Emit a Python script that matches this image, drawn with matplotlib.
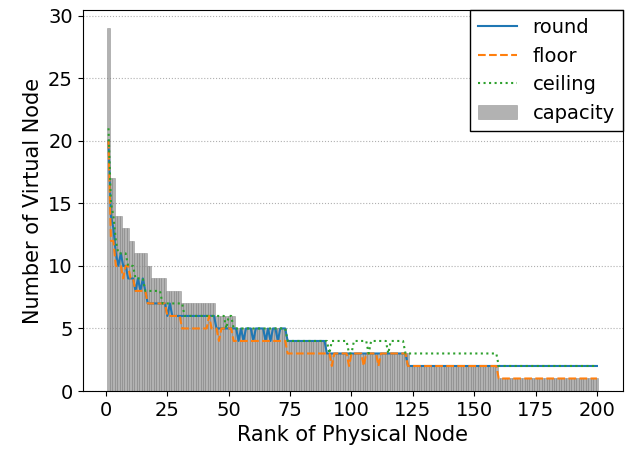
import matplotlib
matplotlib.use("Agg")
import matplotlib.pyplot as plt

plt.rcParams["font.size"] = 14

ranks = list(range(1, 201))

capacity = [
    29, 17, 17, 14, 14, 14, 13, 13, 13, 12, 12, 11, 11, 11, 11, 11, 10, 10, 9, 9,
    9, 9, 9, 9, 8, 8, 8, 8, 8, 8, 7, 7, 7, 7, 7, 7, 7, 7, 7, 7,
    7, 7, 7, 7, 6, 6, 6, 6, 6, 6, 6, 6, 5, 5, 5, 5, 5, 5, 5, 5,
    5, 5, 5, 5, 5, 5, 5, 5, 5, 5, 5, 5, 5, 4, 4, 4, 4, 4, 4, 4,
    4, 4, 4, 4, 4, 4, 4, 4, 4, 3, 3, 3, 3, 3, 3, 3, 3, 3, 3, 3,
    3, 3, 3, 3, 3, 3, 3, 3, 3, 3, 3, 3, 3, 3, 3, 3, 3, 3, 3, 3,
    3, 3, 3, 2, 2, 2, 2, 2, 2, 2, 2, 2, 2, 2, 2, 2, 2, 2, 2, 2,
    2, 2, 2, 2, 2, 2, 2, 2, 2, 2, 2, 2, 2, 2, 2, 2, 2, 2, 2, 1,
    1, 1, 1, 1, 1, 1, 1, 1, 1, 1, 1, 1, 1, 1, 1, 1, 1, 1, 1, 1,
    1, 1, 1, 1, 1, 1, 1, 1, 1, 1, 1, 1, 1, 1, 1, 1, 1, 1, 1, 1,
]

vn_round = [
    20, 14, 13, 11, 10, 11, 10, 10, 9, 9, 9, 8, 9, 8, 9, 8, 7, 7, 7, 7,
    7, 7, 7, 7, 6, 7, 6, 6, 6, 6, 6, 6, 6, 6, 6, 6, 6, 6, 6, 6,
    6, 6, 6, 6, 5, 5, 5, 5, 5, 5, 5, 5, 5, 4, 5, 4, 5, 5, 5, 4,
    5, 5, 5, 5, 4, 5, 4, 5, 5, 4, 5, 5, 5, 4, 4, 4, 4, 4, 4, 4,
    4, 4, 4, 4, 4, 4, 4, 4, 4, 3, 3, 3, 3, 3, 3, 3, 3, 3, 3, 3,
    3, 3, 3, 3, 3, 3, 3, 3, 3, 3, 3, 3, 3, 3, 3, 3, 3, 3, 3, 3,
    3, 3, 2, 2, 2, 2, 2, 2, 2, 2, 2, 2, 2, 2, 2, 2, 2, 2, 2, 2,
    2, 2, 2, 2, 2, 2, 2, 2, 2, 2, 2, 2, 2, 2, 2, 2, 2, 2, 2, 2,
    2, 2, 2, 2, 2, 2, 2, 2, 2, 2, 2, 2, 2, 2, 2, 2, 2, 2, 2, 2,
    2, 2, 2, 2, 2, 2, 2, 2, 2, 2, 2, 2, 2, 2, 2, 2, 2, 2, 2, 2,
]

vn_floor = [
    20, 12, 12, 10, 10, 10, 9, 10, 10, 9, 9, 8, 8, 8, 8, 8, 7, 7, 7, 7,
    7, 7, 7, 7, 6, 6, 6, 6, 6, 6, 5, 5, 5, 5, 5, 5, 5, 5, 5, 5,
    5, 6, 5, 5, 5, 4, 5, 5, 5, 5, 5, 4, 4, 4, 4, 4, 4, 4, 4, 4,
    4, 4, 4, 4, 4, 4, 4, 4, 4, 4, 4, 4, 4, 3, 3, 3, 3, 3, 3, 3,
    3, 3, 3, 3, 3, 3, 3, 3, 3, 3, 3, 2, 3, 3, 3, 3, 3, 3, 2, 3,
    3, 3, 3, 3, 2, 3, 3, 3, 3, 3, 2, 3, 3, 3, 3, 3, 3, 3, 3, 3,
    3, 3, 2, 2, 2, 2, 2, 2, 2, 2, 2, 2, 2, 2, 2, 2, 2, 2, 2, 2,
    2, 2, 2, 2, 2, 2, 2, 2, 2, 2, 2, 2, 2, 2, 2, 2, 2, 2, 2, 1,
    1, 1, 1, 1, 1, 1, 1, 1, 1, 1, 1, 1, 1, 1, 1, 1, 1, 1, 1, 1,
    1, 1, 1, 1, 1, 1, 1, 1, 1, 1, 1, 1, 1, 1, 1, 1, 1, 1, 1, 1,
]

vn_ceiling = [
    21, 15, 14, 12, 11, 11, 11, 11, 10, 10, 10, 9, 9, 9, 9, 8, 8, 8, 8, 8,
    8, 8, 7, 7, 7, 7, 7, 7, 7, 7, 7, 6, 6, 6, 6, 6, 6, 6, 6, 6,
    6, 6, 6, 6, 6, 6, 6, 6, 5, 6, 6, 5, 5, 5, 5, 5, 5, 5, 5, 5,
    5, 5, 5, 5, 5, 5, 5, 5, 5, 5, 5, 5, 5, 4, 4, 4, 4, 4, 4, 4,
    4, 4, 4, 4, 4, 4, 4, 4, 4, 4, 3, 4, 4, 4, 4, 4, 4, 4, 3, 3,
    4, 4, 4, 4, 4, 4, 3, 4, 4, 4, 4, 4, 4, 4, 3, 4, 4, 4, 4, 4,
    4, 3, 3, 3, 3, 3, 3, 3, 3, 3, 3, 3, 3, 3, 3, 3, 3, 3, 3, 3,
    3, 3, 3, 3, 3, 3, 3, 3, 3, 3, 3, 3, 3, 3, 3, 3, 3, 3, 3, 2,
    2, 2, 2, 2, 2, 2, 2, 2, 2, 2, 2, 2, 2, 2, 2, 2, 2, 2, 2, 2,
    2, 2, 2, 2, 2, 2, 2, 2, 2, 2, 2, 2, 2, 2, 2, 2, 2, 2, 2, 2,
]

fig = plt.figure(figsize=(6.29, 4.57), dpi=100)
ax = fig.add_axes([0.1315, 0.1444, 0.8585, 0.8336])

ax.bar(ranks, capacity, width=1, color="gray", alpha=0.6,
       edgecolor="gray", linewidth=0.5, label="capacity")
ax.plot(ranks, vn_round, "-", color="C0", label="round")
ax.plot(ranks, vn_floor, "--", color="C1", label="floor")
ax.plot(ranks, vn_ceiling, ":", color="C2", label="ceiling")

ax.yaxis.grid(True, linestyle=":", color="#b0b0b0")
ax.set_axisbelow(True)
ax.set_xlabel("Rank of Physical Node", fontsize=15)
ax.set_ylabel("Number of Virtual Node", fontsize=15)
ax.set_xticks([0, 25, 50, 75, 100, 125, 150, 175, 200])
ax.set_yticks([0, 5, 10, 15, 20, 25, 30])

ax.legend(loc="upper right", fancybox=False, edgecolor="black",
          framealpha=1, borderaxespad=0)

fig.savefig("out.png", dpi=100)
